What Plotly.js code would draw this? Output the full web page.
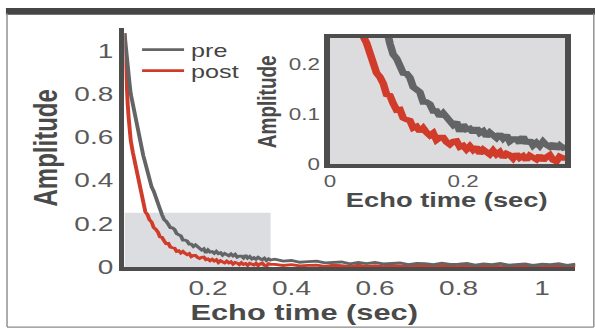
<!DOCTYPE html>
<html>
<head>
<meta charset="utf-8">
<script src="https://cdn.plot.ly/plotly-3.0.1.min.js"></script>
<style>
  html, body { margin: 0; padding: 0; background: #ffffff; overflow: hidden; }
  #chart { width: 425px; height: 330px; transform: scaleX(1.4); transform-origin: 0 0; }
</style>
</head>
<body>
<div id="chart"></div>
<script>
// ---- data ----
const echoTime = [
  0, 0.0025, 0.005, 0.0075, 0.01, 0.0125, 0.015, 0.02, 0.025, 0.03, 0.035, 0.04, 0.045,
  0.05, 0.055, 0.06, 0.065, 0.07, 0.075, 0.08, 0.085, 0.09, 0.095,
  0.10, 0.105, 0.11, 0.115, 0.12, 0.125, 0.13, 0.135, 0.14, 0.145,
  0.15, 0.155, 0.16, 0.165, 0.17, 0.175, 0.18, 0.185, 0.19, 0.195,
  0.20, 0.205, 0.21, 0.215, 0.22, 0.225, 0.23, 0.235, 0.24, 0.245,
  0.25, 0.255, 0.26, 0.265, 0.27, 0.275, 0.28, 0.285, 0.29, 0.295,
  0.30, 0.305, 0.31, 0.315, 0.32, 0.325, 0.33, 0.335, 0.34, 0.345, 0.35,
  0.36, 0.38, 0.40, 0.42, 0.44, 0.46, 0.48, 0.50, 0.52, 0.54,
  0.56, 0.58, 0.60, 0.62, 0.64, 0.66, 0.68, 0.70, 0.72, 0.74,
  0.76, 0.78, 0.80, 0.82, 0.84, 0.86, 0.88, 0.90, 0.92, 0.94,
  0.96, 0.98, 1.00, 1.02, 1.04, 1.06, 1.08
];
const preAmp = [
  1.08, 1.02, 0.96, 0.92, 0.88, 0.84, 0.80, 0.75, 0.70, 0.65, 0.60, 0.555, 0.515,
  0.479, 0.437, 0.407, 0.370, 0.350, 0.319, 0.288, 0.271, 0.241, 0.219,
  0.211, 0.197, 0.182, 0.181, 0.173, 0.154, 0.147, 0.144, 0.124, 0.124,
  0.120, 0.106, 0.106, 0.095, 0.102, 0.095, 0.086, 0.078, 0.084, 0.065,
  0.079, 0.069, 0.071, 0.063, 0.072, 0.062, 0.066, 0.055, 0.063, 0.058,
  0.052, 0.060, 0.051, 0.058, 0.045, 0.050, 0.050, 0.042, 0.055, 0.041,
  0.048, 0.037, 0.043, 0.036, 0.045, 0.038, 0.034, 0.041, 0.030, 0.0375, 0.032,
  0.036, 0.027, 0.030, 0.022, 0.025, 0.027, 0.019, 0.021, 0.023, 0.015,
  0.021, 0.016, 0.021, 0.014, 0.016, 0.019, 0.011, 0.017, 0.016, 0.011,
  0.018, 0.012, 0.013, 0.016, 0.009, 0.014, 0.011, 0.016, 0.009, 0.012,
  0.014, 0.007, 0.013, 0.011, 0.015, 0.008, 0.013
];
const postAmp = [
  1.08, 0.93, 0.84, 0.76, 0.69, 0.63, 0.585, 0.53, 0.48, 0.44, 0.395, 0.35, 0.30,
  0.255, 0.242, 0.218, 0.208, 0.182, 0.174, 0.161, 0.139, 0.137, 0.121,
  0.108, 0.109, 0.092, 0.089, 0.087, 0.072, 0.075, 0.065, 0.072, 0.063,
  0.057, 0.062, 0.048, 0.053, 0.053, 0.044, 0.039, 0.045, 0.046, 0.034,
  0.037, 0.029, 0.036, 0.028, 0.034, 0.021, 0.029, 0.024, 0.019, 0.027,
  0.019, 0.024, 0.013, 0.021, 0.018, 0.011, 0.020, 0.012, 0.016, 0.008,
  0.017, 0.013, 0.009, 0.017, 0.007, 0.014, 0.018, 0.008, 0.005, 0.015, 0.012,
  0.012, 0.007, 0.011, 0.005, 0.008, 0.009, 0.003, 0.008, 0.006, 0.003,
  0.008, 0.003, 0.006, 0.002, 0.007, 0.005, 0.003, 0.008, 0.004, 0.002,
  0.007, 0.006, 0.002, 0.008, 0.003, 0.005, 0.007, 0.002, 0.006, 0.007,
  0.003, 0.008, 0.002, 0.006, 0.007, 0.003, 0.005
];
const seriesNames = ['pre', 'post'];
const mainXTicks = [0.2, 0.4, 0.6, 0.8, 1];
const mainXTickText = ['0.2', '0.4', '0.6', '0.8', '1'];
const mainYTicks = [0, 0.2, 0.4, 0.6, 0.8, 1];
const mainYTickText = ['0', '0.2', '0.4', '0.6', '0.8', '1'];
const insetXTicks = [0, 0.2];
const insetXTickText = ['0', '0.2'];
const insetYTicks = [0, 0.1, 0.2];
const insetYTickText = ['0', '0.1', '0.2'];
const xTitle = 'Echo time (sec)';
const yTitle = 'Amplitude';

// ---- styling ----
const preColor = '#636466';
const postColor = '#d03b2a';
const axisColor = '#4d4d4d';
const tickColor = '#5a5a5a';
const titleColor = '#4a4a4a';
const fontFam = '"Liberation Sans", Arial, Helvetica, sans-serif';

const traces = [
  { x: echoTime, y: postAmp, name: seriesNames[1], type: 'scatter', mode: 'lines',
    line: { color: postColor, width: 2.8 }, xaxis: 'x', yaxis: 'y', legend: 'legend2' },
  { x: echoTime, y: preAmp, name: seriesNames[0], type: 'scatter', mode: 'lines',
    line: { color: preColor, width: 2.8 }, xaxis: 'x', yaxis: 'y', legend: 'legend' },
  { x: echoTime, y: preAmp, name: seriesNames[0], type: 'scatter', mode: 'lines',
    line: { color: preColor, width: 5.5 }, xaxis: 'x2', yaxis: 'y2', showlegend: false },
  { x: echoTime, y: postAmp, name: seriesNames[1], type: 'scatter', mode: 'lines',
    line: { color: postColor, width: 5.5 }, xaxis: 'x2', yaxis: 'y2', showlegend: false }
];

const axBase = {
  showgrid: false, zeroline: false, showline: true, linecolor: axisColor,
  ticks: '', tickfont: { family: fontFam, color: tickColor }, tickmode: 'array'
};

const legendFont = { family: fontFam, size: 18, color: '#444444' };

const layout = {
  width: 425, height: 330,
  margin: { l: 0, r: 0, t: 0, b: 0 },
  paper_bgcolor: '#ffffff', plot_bgcolor: 'rgba(0,0,0,0)',
  font: { family: fontFam, color: titleColor },
  xaxis: Object.assign({}, axBase, {
    domain: [0.2092, 0.9671], range: [0, 1.08], anchor: 'y', linewidth: 4,
    tickvals: mainXTicks, ticktext: mainXTickText,
    tickfont: { family: fontFam, color: tickColor, size: 20 }
  }),
  yaxis: Object.assign({}, axBase, {
    domain: [0.1909, 0.9152], range: [0, 1.104], anchor: 'x', linewidth: 4,
    tickvals: mainYTicks, ticktext: mainYTickText,
    tickfont: { family: fontFam, color: tickColor, size: 20 }
  }),
  xaxis2: Object.assign({}, axBase, {
    domain: [0.5546, 0.9496], range: [0, 0.353], anchor: 'y2', linewidth: 4, mirror: true,
    tickvals: insetXTicks, ticktext: insetXTickText,
    tickfont: { family: fontFam, color: tickColor, size: 16 }
  }),
  yaxis2: Object.assign({}, axBase, {
    domain: [0.503, 0.8848], range: [0, 0.252], anchor: 'x2', linewidth: 4, mirror: true,
    tickvals: insetYTicks, ticktext: insetYTickText,
    tickfont: { family: fontFam, color: tickColor, size: 16 }
  }),
  legend: { x: 0.227, xanchor: 'left', y: 0.8485, yanchor: 'middle',
    bgcolor: 'rgba(0,0,0,0)', borderwidth: 0, font: legendFont },
  legend2: { x: 0.227, xanchor: 'left', y: 0.7848, yanchor: 'middle',
    bgcolor: 'rgba(0,0,0,0)', borderwidth: 0, font: legendFont },
  shapes: [
    // top dark bar and thin frame
    { type: 'rect', xref: 'paper', yref: 'paper', x0: 0.010, x1: 1, y0: 0.955, y1: 0.976,
      fillcolor: '#454545', line: { width: 0 }, layer: 'below' },
    { type: 'line', xref: 'paper', yref: 'paper', x0: 0.0118, x1: 0.0118, y0: 0.009, y1: 0.96,
      line: { color: '#8a8a8a', width: 1 } },
    { type: 'line', xref: 'paper', yref: 'paper', x0: 0.0118, x1: 0.998, y0: 0.009, y1: 0.009,
      line: { color: '#8a8a8a', width: 1.2 } },
    { type: 'line', xref: 'paper', yref: 'paper', x0: 0.998, x1: 0.998, y0: 0.009, y1: 0.96,
      line: { color: '#8a8a8a', width: 1 } },
    // grey zoom region in the main plot
    { type: 'rect', xref: 'x', yref: 'y', x0: 0, x1: 0.35, y0: 0, y1: 0.25,
      fillcolor: '#dcdde0', line: { width: 0 }, layer: 'below' },
    // inset background
    { type: 'rect', xref: 'x2 domain', yref: 'y2 domain', x0: 0, x1: 1, y0: 0, y1: 1,
      fillcolor: '#dcdcde', line: { width: 0 }, layer: 'below' }
  ],
  annotations: [
    { text: '<b>' + xTitle + '</b>', xref: 'paper', yref: 'paper', x: 0.5126, y: 0.0545,
      xanchor: 'center', yanchor: 'middle', showarrow: false,
      font: { family: fontFam, size: 22, color: titleColor } },
    { text: '<b>' + yTitle + '</b>', xref: 'paper', yref: 'paper', x: 0.074, y: 0.5515,
      xanchor: 'center', yanchor: 'middle', showarrow: false, textangle: -90,
      font: { family: fontFam, size: 24, color: titleColor } },
    { text: '<b>' + xTitle + '</b>', xref: 'paper', yref: 'paper', x: 0.7513, y: 0.394,
      xanchor: 'center', yanchor: 'middle', showarrow: false,
      font: { family: fontFam, size: 19.5, color: titleColor } },
    { text: '<b>' + yTitle + '</b>', xref: 'paper', yref: 'paper', x: 0.4487, y: 0.6924,
      xanchor: 'center', yanchor: 'middle', showarrow: false, textangle: -90,
      font: { family: fontFam, size: 19, color: titleColor } }
  ]
};

Plotly.newPlot('chart', traces, layout, { displayModeBar: false, staticPlot: true });
</script>
</body>
</html>
